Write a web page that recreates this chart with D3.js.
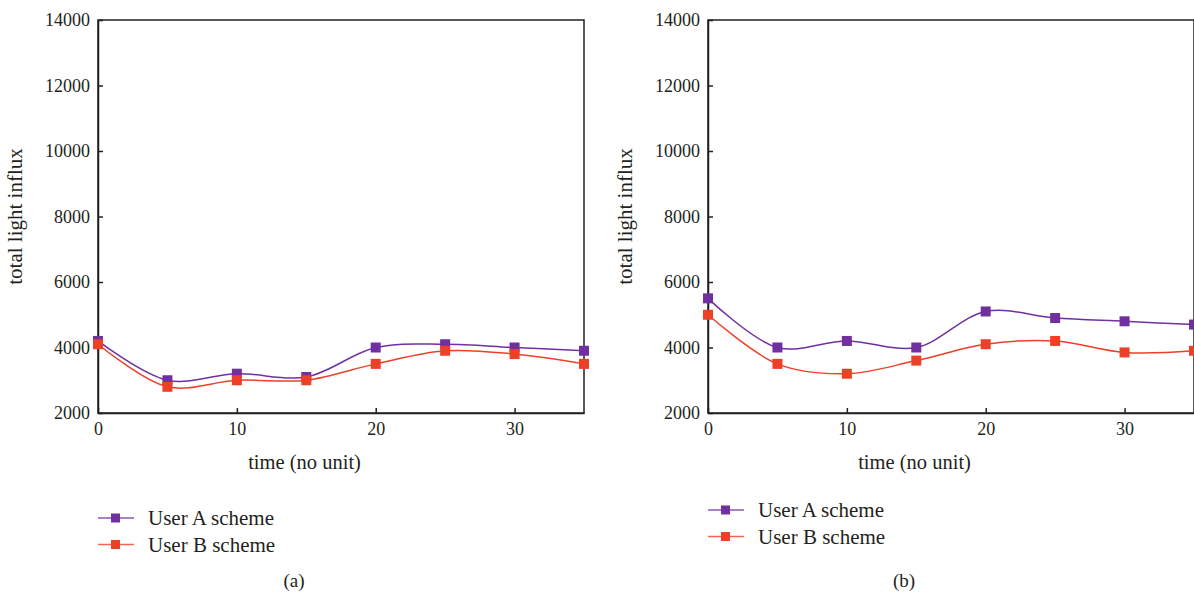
<!DOCTYPE html>
<html>
<head>
  <script src="https://d3js.org/d3.v7.min.js"></script>
  <style>
    * { margin: 0; box-sizing: border-box; }
    body { background: #fff; }
    .axis path, .axis line { stroke: #231f20; stroke-width: 1.5px; }
    .frame { fill: none; stroke: #231f20; stroke-width: 1.5px; }
  </style>
</head>
<body>
  <script>
    const times = [0, 5, 10, 15, 20, 25, 30, 35];
    const xTicks = [0, 10, 20, 30];
    const yTicks = [2000, 4000, 6000, 8000, 10000, 12000, 14000];
    const seriesNames = ["User A scheme", "User B scheme"];
    const seriesColors = ["#7030a0", "#ee4027"];

    const userA_a = [4200, 3000, 3200, 3100, 4000, 4100, 4000, 3900];
    const userB_a = [4100, 2800, 3000, 3000, 3500, 3900, 3800, 3500];
    const userA_b = [5500, 4000, 4200, 4000, 5100, 4900, 4800, 4700];
    const userB_b = [5000, 3500, 3200, 3600, 4100, 4200, 3850, 3900];

    const serif = "'Liberation Serif', 'Times New Roman', Tinos, 'DejaVu Serif', serif";
    const width = 1194, height = 595;
    const svg = d3.select("body").append("svg")
      .attr("width", width)
      .attr("height", height);

    function styleText(sel, size) {
      sel.attr("font-family", null)
        .style("font-family", serif)
        .style("font-size", size + "px")
        .style("fill", "#231f20");
    }

    function drawPanel(left, series, caption, legendX, legendY) {
      const w = 486, top = 20, bottom = 413;
      const x = d3.scaleLinear().domain([0, 35]).range([left, left + w]);
      const y = d3.scaleLinear().domain([2000, 14000]).range([bottom, top]);
      const g = svg.append("g");

      g.append("rect").attr("class", "frame")
        .attr("x", left).attr("y", top)
        .attr("width", w).attr("height", bottom - top);

      const xa = g.append("g").attr("class", "axis")
        .attr("transform", `translate(0,${bottom})`)
        .call(d3.axisBottom(x).tickValues(xTicks).tickSizeInner(-5).tickSizeOuter(0).tickPadding(9));
      xa.attr("font-family", null);
      styleText(xa.selectAll("text"), 18);

      const ya = g.append("g").attr("class", "axis")
        .attr("transform", `translate(${left},0)`)
        .call(d3.axisLeft(y).tickValues(yTicks).tickSizeInner(-5).tickSizeOuter(0).tickPadding(8).tickFormat(d3.format("d")));
      ya.attr("font-family", null);
      styleText(ya.selectAll("text"), 18);

      styleText(g.append("text")
        .attr("transform", `translate(${left - 76},${(top + bottom) / 2}) rotate(-90)`)
        .attr("text-anchor", "middle")
        .text("total light influx"), 21);

      styleText(g.append("text")
        .attr("x", left + w * 0.425).attr("y", 469)
        .attr("text-anchor", "middle")
        .text("time (no unit)"), 20.5);

      const line = d3.line()
        .x((d, i) => x(times[i]))
        .y(d => y(d))
        .curve(d3.curveCatmullRom.alpha(0.5));

      series.forEach((vals, k) => {
        g.append("path")
          .attr("d", line(vals))
          .attr("fill", "none")
          .attr("stroke", seriesColors[k])
          .attr("stroke-width", 1.5);
        g.selectAll(null).data(vals).enter().append("rect")
          .attr("x", (d, i) => x(times[i]) - 5)
          .attr("y", d => y(d) - 5)
          .attr("width", 10).attr("height", 10)
          .attr("fill", seriesColors[k]);

        const ly = legendY + k * 26.5;
        g.append("line")
          .attr("x1", legendX).attr("x2", legendX + 36)
          .attr("y1", ly).attr("y2", ly)
          .attr("stroke", seriesColors[k]).attr("stroke-width", 1.5)
          .attr("opacity", 0.8);
        g.append("rect")
          .attr("x", legendX + 13).attr("y", ly - 4.5)
          .attr("width", 9).attr("height", 9)
          .attr("fill", seriesColors[k]);
        styleText(g.append("text")
          .attr("x", legendX + 50).attr("y", ly + 7)
          .text(seriesNames[k]), 21);
      });

      styleText(g.append("text")
        .attr("x", left + 196).attr("y", 587)
        .attr("text-anchor", "middle")
        .text(caption), 19);
    }

    drawPanel(98, [userA_a, userB_a], "(a)", 98, 518);
    drawPanel(708, [userA_b, userB_b], "(b)", 708, 510);
  </script>
</body>
</html>
